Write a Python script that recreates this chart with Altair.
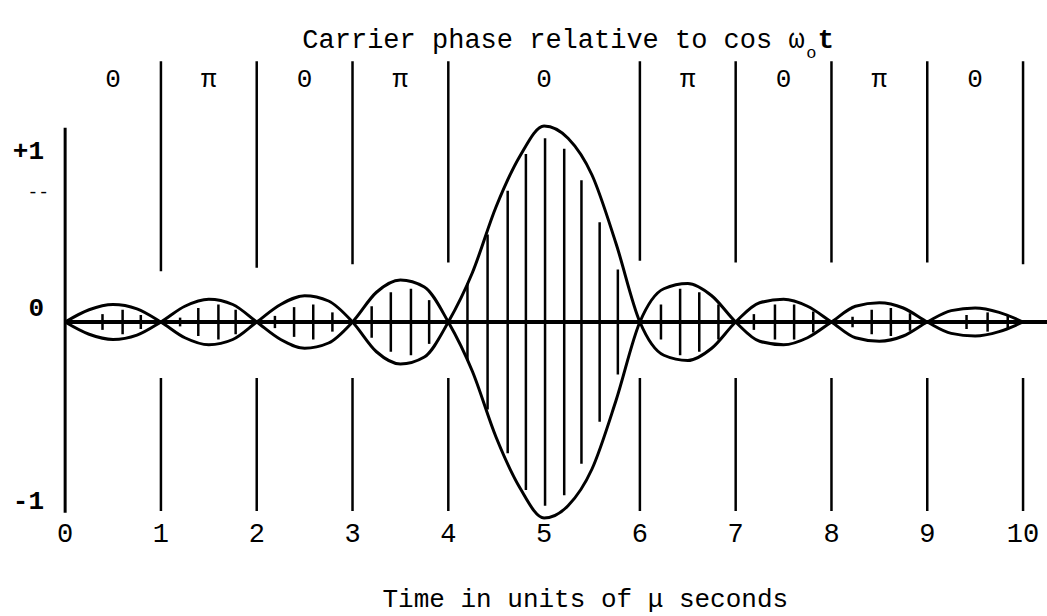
import altair as alt
import pandas as pd

# Envelope of the pulse, read every quarter microsecond.
# Sign follows the carrier phase of each interval (0 -> +, pi -> -).
env_t = [0, 0.25, 0.5, 0.75, 1, 1.25, 1.5, 1.75, 2, 2.25, 2.5, 2.75,
         3, 3.25, 3.5, 3.75, 4, 4.25, 4.5, 4.75, 5, 5.25, 5.5, 5.75,
         6, 6.25, 6.5, 6.75, 7, 7.25, 7.5, 7.75, 8, 8.25, 8.5, 8.75,
         9, 9.25, 9.5, 9.75, 10]
env_v = [0, 0.07, 0.10, 0.075,
         0, -0.09, -0.13, -0.10,
         0, 0.10, 0.15, 0.12,
         0, -0.17, -0.24, -0.20,
         0, 0.28, 0.66, 0.95, 1.12, 1.05, 0.84, 0.45,
         0, -0.19, -0.22, -0.15,
         0, 0.11, 0.13, 0.09,
         0, -0.09, -0.11, -0.08,
         0, 0.065, 0.08, 0.055, 0]

# Carrier cycles drawn as vertical strokes (time, half-height)
carrier_t = [0.39, 0.60, 0.79,
             1.20, 1.39, 1.60, 1.78,
             2.19, 2.39, 2.59, 2.79,
             3.20, 3.40, 3.61, 3.80,
             4.20, 4.41, 4.62, 4.81, 5.01, 5.21, 5.39, 5.58, 5.77,
             6.22, 6.42, 6.62, 6.82,
             7.19, 7.41, 7.61, 7.81,
             8.22, 8.42, 8.62, 8.82,
             9.41, 9.63, 9.84]
carrier_h = [0.045, 0.07, 0.04,
             0.025, 0.08, 0.10, 0.07,
             0.035, 0.085, 0.10, 0.055,
             0.09, 0.17, 0.19, 0.125,
             0.22, 0.50, 0.75, 0.96, 1.05, 0.99, 0.81, 0.57, 0.30,
             0.10, 0.19, 0.17, 0.10,
             0.045, 0.10, 0.10, 0.06,
             0.03, 0.07, 0.08, 0.05,
             0.04, 0.055, 0.035]

# Interval boundaries and the carrier phase in each interval
sep_t = [1, 2, 3, 4, 6, 7, 8, 9, 10]
sep_top_end = [0.29, 0.31, 0.33, 0.34, 0.35, 0.34, 0.34, 0.34, 0.33]
phase_t = [0.5, 1.5, 2.5, 3.5, 5.0, 6.5, 7.5, 8.5, 9.5]
phase_lbl = ["0", "π", "0", "π", "0", "π", "0", "π", "0"]

# Axis annotations
x_ticks = [0, 1, 2, 3, 4, 5, 6, 7, 8, 9, 10]
y_lbl = ["+1", "0", "-1"]
y_lbl_pos = [0.98, 0.08, -1.02]

FONT = "Liberation Mono"
xs = alt.Scale(domain=[-0.68, 10.25], nice=False, zero=False)
ys = alt.Scale(domain=[-1.68, 1.84], nice=False, zero=False)


def X(f="t"):
    return alt.X(f"{f}:Q", scale=xs, axis=None)


def Y(f="y"):
    return alt.Y(f"{f}:Q", scale=ys, axis=None)


env = pd.DataFrame({"t": env_t + env_t,
                    "y": env_v + [-v for v in env_v],
                    "side": ["upper"] * len(env_t) + ["lower"] * len(env_t)})
envelope = alt.Chart(env).mark_line(
    color="black", strokeWidth=3, interpolate="monotone"
).encode(x=X(), y=Y(), detail="side:N")

car = pd.DataFrame({"t": carrier_t, "top": carrier_h,
                    "bot": [-h for h in carrier_h]})
carrier = alt.Chart(car).mark_rule(color="black", strokeWidth=2.5).encode(
    x=X(), y=Y("top"), y2="bot:Q")

baseline = alt.Chart(pd.DataFrame({"t": [0], "t2": [10.25], "y": [0]})).mark_rule(
    color="black", strokeWidth=4).encode(x=X(), x2="t2:Q", y=Y())

yaxis = alt.Chart(pd.DataFrame({"t": [0], "a": [1.11], "b": [-1.09]})).mark_rule(
    color="black", strokeWidth=3).encode(x=X(), y=Y("a"), y2="b:Q")

sep_up = alt.Chart(pd.DataFrame({"t": sep_t, "a": [1.49] * len(sep_t),
                                 "b": sep_top_end})).mark_rule(
    color="black", strokeWidth=2.5).encode(x=X(), y=Y("a"), y2="b:Q")

sep_dn = alt.Chart(pd.DataFrame({"t": sep_t, "a": [-0.32] * len(sep_t),
                                 "b": [-1.08] * len(sep_t)})).mark_rule(
    color="black", strokeWidth=2.5).encode(x=X(), y=Y("a"), y2="b:Q")

phases = alt.Chart(pd.DataFrame({"t": phase_t, "y": [1.39] * len(phase_t),
                                 "s": phase_lbl})).mark_text(
    font=FONT, fontSize=26, color="black", baseline="middle", align="center"
).encode(x=X(), y=Y(), text="s:N")

xticks = alt.Chart(pd.DataFrame({"t": x_ticks, "y": [-1.21] * len(x_ticks),
                                 "s": [str(v) for v in x_ticks]})).mark_text(
    font=FONT, fontSize=27, color="black", baseline="middle", align="center"
).encode(x=X(), y=Y(), text="s:N")

ylabels = alt.Chart(pd.DataFrame({"t": [-0.22] * 3, "y": y_lbl_pos,
                                  "s": y_lbl})).mark_text(
    font=FONT, fontSize=26, fontWeight="bold", color="black",
    baseline="middle", align="right"
).encode(x=X(), y=Y(), text="s:N")

dash = alt.Chart(pd.DataFrame({"t": [-0.28], "y": [0.74], "s": ["--"]})).mark_text(
    font=FONT, fontSize=18, color="black", baseline="middle", align="center"
).encode(x=X(), y=Y(), text="s:N")

title = alt.Chart(pd.DataFrame({"t": [7.72], "y": [1.61],
                                "s": ["Carrier phase relative to cos ω"]})).mark_text(
    font=FONT, fontSize=27, color="black", baseline="middle", align="right"
).encode(x=X(), y=Y(), text="s:N")

title_sub = alt.Chart(pd.DataFrame({"t": [7.79], "y": [1.535], "s": ["o"]})).mark_text(
    font=FONT, fontSize=17, color="black", baseline="middle", align="center"
).encode(x=X(), y=Y(), text="s:N")

title_t = alt.Chart(pd.DataFrame({"t": [7.94], "y": [1.61], "s": ["t"]})).mark_text(
    font=FONT, fontSize=27, fontWeight="bold", color="black",
    baseline="middle", align="center"
).encode(x=X(), y=Y(), text="s:N")

xtitle = alt.Chart(pd.DataFrame({"t": [5.43], "y": [-1.58],
                                 "s": ["Time in units of μ seconds"]})).mark_text(
    font=FONT, fontSize=26, color="black", baseline="middle", align="center"
).encode(x=X(), y=Y(), text="s:N")

chart = alt.layer(
    sep_up, sep_dn, yaxis, carrier, envelope, baseline,
    phases, xticks, ylabels, dash, title, title_sub, title_t, xtitle
).properties(
    width=1047, height=616,
    autosize=alt.AutoSizeParams(type="none"),
    padding=0, background="white"
).configure_view(stroke=None)

chart.save("out.html", embed_options={"renderer": "svg", "actions": False})
